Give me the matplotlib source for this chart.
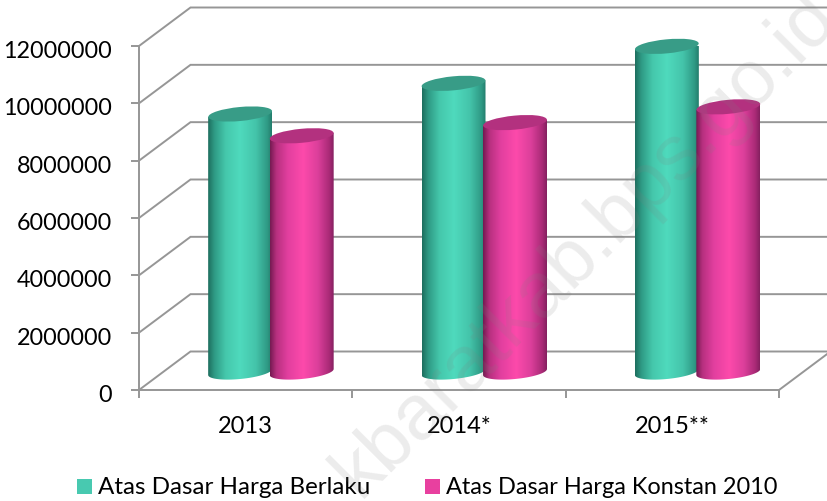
import numpy as np
import matplotlib
matplotlib.use('Agg')
import matplotlib.pyplot as plt
from matplotlib.colors import LinearSegmentedColormap
from matplotlib.patches import Ellipse, PathPatch, Rectangle
from matplotlib.path import Path
from matplotlib.transforms import Affine2D, IdentityTransform

categories = ['2013', '2014*', '2015**']
berlaku = [9000000, 10070000, 11360000]
konstan = [8240000, 8700000, 9250000]
y_ticks = [0, 2000000, 4000000, 6000000, 8000000, 10000000, 12000000]
series_names = ['Atas Dasar Harga Berlaku', 'Atas Dasar Harga Konstan 2010']

W, H = 827, 502
plt.rcParams['font.family'] = ['Lato', 'DejaVu Sans']
fig = plt.figure(figsize=(W / 100, H / 100), dpi=100)
ax = fig.add_axes([139 / W, 1 - 391 / H, 640 / W, 344 / H])
ax.set_xlim(0, 3)
ax.set_ylim(0, 12000000)
for s in ax.spines.values():
    s.set_visible(False)
ax.patch.set_alpha(0)

grey = '#969696'
pix = IdentityTransform()
depth_x, depth_y = 51.5, 38.5   # back wall offset in pixels

# floor and back wall
for v in y_ticks:
    x0, y0 = ax.transData.transform((0, v))
    x1, y1 = ax.transData.transform((3, v))
    ax.plot([x0, x0 + depth_x, x1 + depth_x], [y0, y0 + depth_y, y1 + depth_y],
            color=grey, lw=1.4, transform=pix, clip_on=False, zorder=1, solid_joinstyle='miter')
    if v == 0:
        ax.plot([x1, x1 + depth_x], [y1, y1 + depth_y], color=grey, lw=1.4,
                transform=pix, clip_on=False, zorder=1)
x0, y0 = ax.transData.transform((0, 0))
x1, y1 = ax.transData.transform((3, 12000000))
ax.plot([x0, x0, x1], [y1, y0, y0], color=grey, lw=1.4, transform=pix, clip_on=False, zorder=1.5)

ax.set_yticks(y_ticks)
ax.set_yticklabels([str(v) for v in y_ticks])
ax.set_xticks([0, 1, 2, 3])
ax.set_xticklabels([])
ax.tick_params(axis='y', length=5.5, width=1.4, color=grey, labelsize=16.8, pad=14)
ax.tick_params(axis='x', length=5.5, width=1.4, color=grey)
for lbl in ax.get_yticklabels():
    lbl.set_transform(lbl.get_transform() + Affine2D().translate(0, -2.5))
for i, c in enumerate(categories):
    xp, _ = ax.transData.transform((i + 0.5, 0))
    fig.text(xp / W, 1 - 426.5 / H, c, ha='center', va='center', fontsize=17, color='black')

green = LinearSegmentedColormap.from_list('g', [(0, '#1d6e5e'), (0.1, '#2f9a85'), (0.28, '#45c8ac'),
                                                (0.5, '#4fdabd'), (0.75, '#44c4aa'), (0.93, '#2f9a85'), (1, '#237d6c')])
pink = LinearSegmentedColormap.from_list('p', [(0, '#741a52'), (0.1, '#b7307f'), (0.28, '#e23f9f'),
                                               (0.52, '#fd4aab'), (0.75, '#dc3f9b'), (0.93, '#a92a76'), (1, '#84205f')])


def cylinder(cx, val, dx, cmap, top_col, z):
    # cx is centre in category units, dx the shift from the category centre in pixels
    xc, ybase = ax.transData.transform((cx, 0))
    _, ytop = ax.transData.transform((cx, val))
    xc = xc + 25 + dx
    ybase = ybase + 18
    ytop = ytop + 18
    w = 32
    tilt = 3
    b = 7
    t = np.linspace(0, np.pi, 40)
    bx = xc + w * np.cos(t + np.pi)
    by = ybase - tilt * np.cos(t) - b * np.sin(t)
    verts = [(xc - w, ytop - tilt)] + list(zip(bx, by)) + [(xc + w, ytop + tilt), (xc - w, ytop - tilt)]
    clip = Path(verts)
    grad = np.linspace(0, 1, 256).reshape(1, -1)
    im = ax.imshow(grad, cmap=cmap, extent=(xc - w, xc + w, ybase - 12, ytop + 10), transform=pix,
                   aspect='auto', interpolation='bilinear', zorder=z)
    im.set_clip_path(PathPatch(clip, transform=pix))
    ax.add_patch(Ellipse((xc, ytop), 2 * w, 2 * b, angle=5.4, facecolor=top_col, edgecolor='none',
                         transform=pix, clip_on=False, zorder=z + 0.01))


for i in range(3):
    cylinder(i + 0.5, berlaku[i], -30.5, green, '#389c87', 3 + i)
    cylinder(i + 0.5, konstan[i], 31, pink, '#b3317f', 3.5 + i)
ax.set_xlim(0, 3)
ax.set_ylim(0, 12000000)

# legend
fig.patches.append(Rectangle((77 / W, 1 - 495 / H), 15 / W, 15 / H, transform=fig.transFigure, facecolor='#48c9b0', edgecolor='none'))
fig.patches.append(Rectangle((425 / W, 1 - 495 / H), 15 / W, 15 / H, transform=fig.transFigure, facecolor='#e8409f', edgecolor='none'))
fig.text(98 / W, 1 - 488 / H, series_names[0], va='center', fontsize=17.4)
fig.text(446 / W, 1 - 488 / H, series_names[1], va='center', fontsize=16.9)

# watermark
fig.text(360 / W, 1 - 500 / H, 'kbaratkab.bps.go.id', rotation=45, rotation_mode='anchor',
         fontsize=56, color='#808080', alpha=0.15, ha='left', va='baseline', family=['Liberation Sans'], zorder=20)

fig.savefig('out.png', dpi=100)
